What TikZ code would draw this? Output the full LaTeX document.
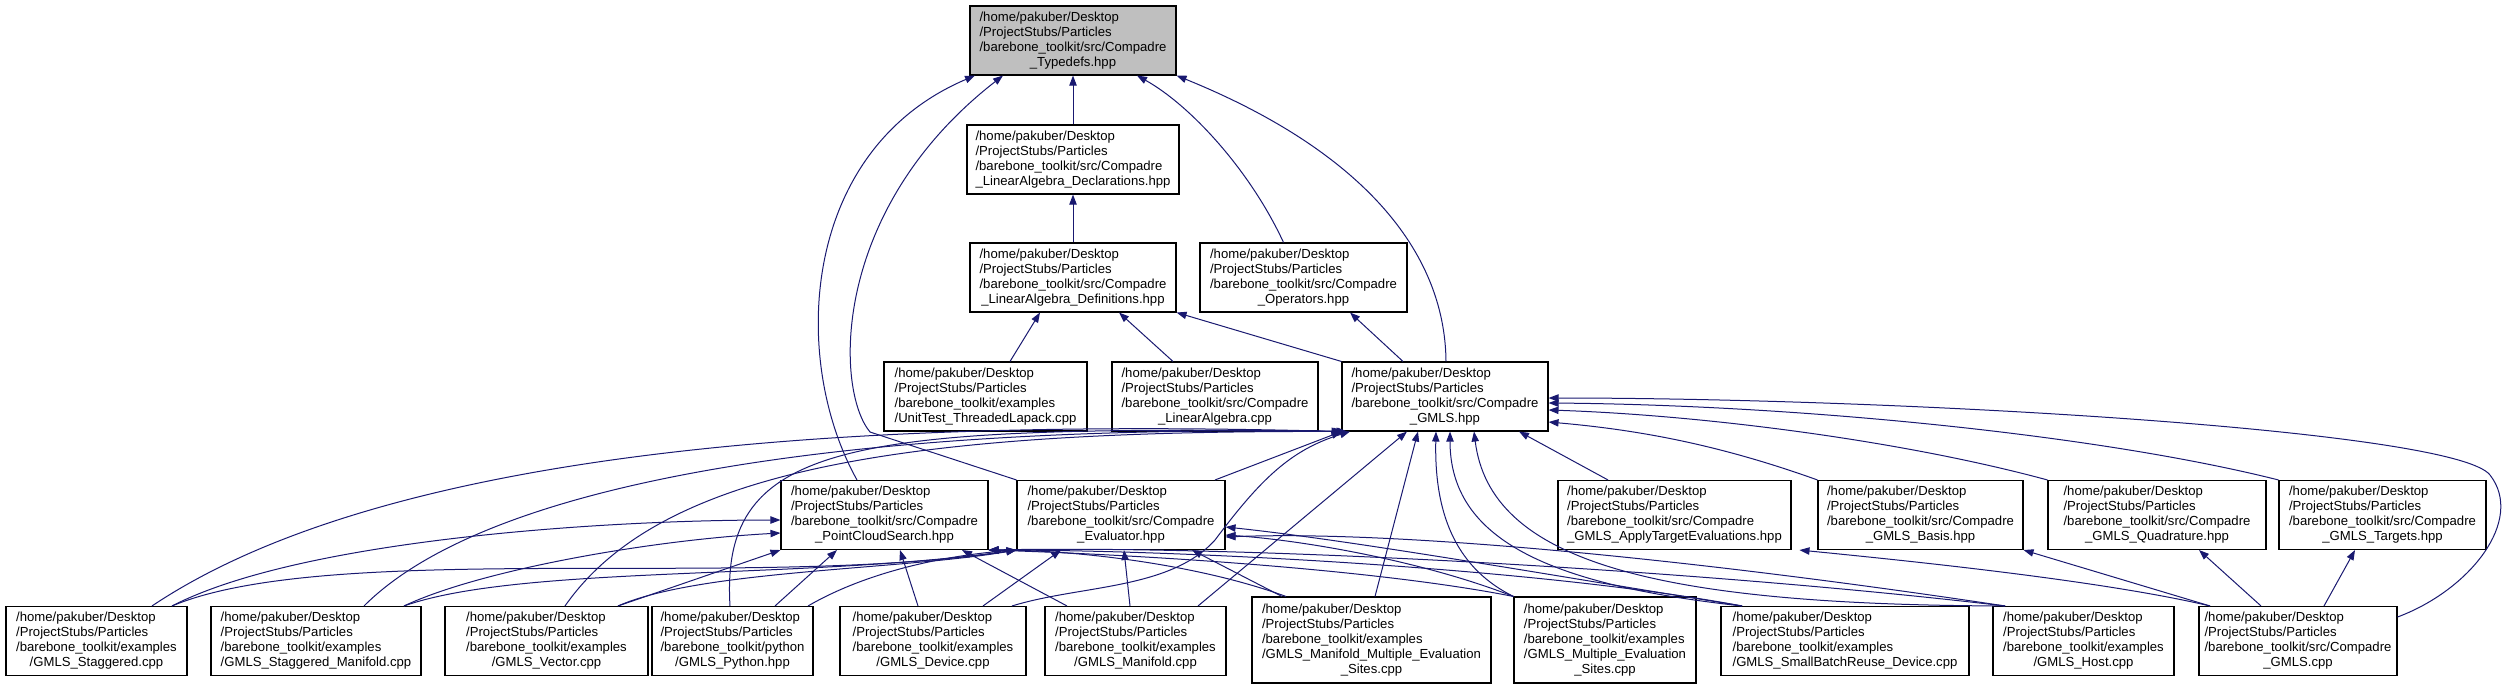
\documentclass[tikz,border=0pt]{standalone}
\usepackage{fontspec}
\setmainfont{Liberation Sans}
\usetikzlibrary{arrows.meta}
\definecolor{edgeblue}{RGB}{25,25,112}
\definecolor{rootgray}{RGB}{191,191,191}
\newdimen\pxu \pxu=0.75pt
\newcommand{\fname}[2]{\begin{tabular}{@{}l@{}}#1\\\multicolumn{1}{@{}c@{}}{#2}\end{tabular}}
\newcommand{\srcdir}{/home/pakuber/Desktop\\/ProjectStubs/Particles\\/barebone\_toolkit/src/Compadre}
\newcommand{\exdir}{/home/pakuber/Desktop\\/ProjectStubs/Particles\\/barebone\_toolkit/examples}
\tikzset{
    file/.style={draw=black, fill=white, line width=0.8pt, inner sep=0pt, minimum height=69\pxu, font=\fontsize{9.85}{11.25}\selectfont},
    root/.style={file, fill=rootgray},
    tall/.style={minimum height=86\pxu},
    boxw/.style={minimum width=#1\pxu},
    dep/.style={draw=edgeblue, line width=0.75pt, ->}
}

\begin{document}
\begin{tikzpicture}[x=0.75pt, y=-0.75pt, >={Triangle[length=7.5pt,width=5.5pt]}]
    \useasboundingbox (0,0) rectangle (2517,689);
    \node[root, boxw=206] (typedefs) at (1073,40.5) {\fname{\srcdir}{\_Typedefs.hpp}};
    \node[file, boxw=212] (ladecl) at (1073,159.5) {\fname{\srcdir}{\_LinearAlgebra\_Declarations.hpp}};
    \node[file, boxw=206] (ladef) at (1073,277.5) {\fname{\srcdir}{\_LinearAlgebra\_Definitions.hpp}};
    \node[file, boxw=207] (operators) at (1303.5,277.5) {\fname{\srcdir}{\_Operators.hpp}};
    \node[file, boxw=203] (unittest) at (985.5,396.5) {\fname{\exdir}{/UnitTest\_ThreadedLapack.cpp}};
    \node[file, boxw=206] (linalg) at (1215,396.5) {\fname{\srcdir}{\_LinearAlgebra.cpp}};
    \node[file, boxw=206] (gmlshpp) at (1445,396.5) {\fname{\srcdir}{\_GMLS.hpp}};
    \node[file, boxw=207] (pcs) at (884.5,515) {\fname{\srcdir}{\_PointCloudSearch.hpp}};
    \node[file, boxw=208] (evaluator) at (1121,515) {\fname{\srcdir}{\_Evaluator.hpp}};
    \node[file, boxw=233] (applytgt) at (1674.5,515) {\fname{\srcdir}{\_GMLS\_ApplyTargetEvaluations.hpp}};
    \node[file, boxw=205] (basis) at (1920.5,515) {\fname{\srcdir}{\_GMLS\_Basis.hpp}};
    \node[file, boxw=218] (quadrature) at (2157,515) {\fname{\srcdir}{\_GMLS\_Quadrature.hpp}};
    \node[file, boxw=207] (targets) at (2382.5,515) {\fname{\srcdir}{\_GMLS\_Targets.hpp}};
    \node[file, boxw=181] (staggered) at (96.5,641) {\fname{\exdir}{/GMLS\_Staggered.cpp}};
    \node[file, boxw=210] (stagmani) at (316,641) {\fname{\exdir}{/GMLS\_Staggered\_Manifold.cpp}};
    \node[file, boxw=203] (vector) at (546.5,641) {\fname{\exdir}{/GMLS\_Vector.cpp}};
    \node[file, boxw=161] (python) at (732.5,641) {\fname{/home/pakuber/Desktop\\/ProjectStubs/Particles\\/barebone\_toolkit/python}{/GMLS\_Python.hpp}};
    \node[file, boxw=186] (device) at (933,641) {\fname{\exdir}{/GMLS\_Device.cpp}};
    \node[file, boxw=181] (manifold) at (1135.5,641) {\fname{\exdir}{/GMLS\_Manifold.cpp}};
    \node[file, tall, boxw=239] (manimult) at (1371.5,640) {\fname{\exdir\\/GMLS\_Manifold\_Multiple\_Evaluation}{\_Sites.cpp}};
    \node[file, tall, boxw=182] (multeval) at (1605,640) {\fname{\exdir\\/GMLS\_Multiple\_Evaluation}{\_Sites.cpp}};
    \node[file, boxw=248] (smallbatch) at (1845,641) {\fname{\exdir}{/GMLS\_SmallBatchReuse\_Device.cpp}};
    \node[file, boxw=181] (host) at (2083.5,641) {\fname{\exdir}{/GMLS\_Host.cpp}};
    \node[file, boxw=198] (gmlscpp) at (2298,641) {\fname{\srcdir}{\_GMLS.cpp}};

    \draw[dep] (ladecl) -- (typedefs);
    \draw[dep] (ladef) -- (ladecl);
    \draw[dep] ([xshift=24.5\pxu]unittest.north) -- ([xshift=-33\pxu]ladef.south);
    \draw[dep] ([xshift=-42\pxu]linalg.north) -- ([xshift=46\pxu]ladef.south);
    \draw[dep] (gmlshpp.north west) -- (ladef.south east);
    \draw[dep] ([xshift=-42\pxu]gmlshpp.north) -- ([xshift=46.5\pxu]operators.south);
    \draw[dep] ([xshift=-20\pxu]operators.north) .. controls (1250,170) and (1190,105) .. ([xshift=64\pxu]typedefs.south);
    \draw[dep] ([xshift=1\pxu]gmlshpp.north) .. controls (1445,250) and (1360,150) .. (typedefs.south east);
    \draw[dep] ([xshift=-27.5\pxu]pcs.north) .. controls (790,360) and (800,150) .. ([xshift=-98\pxu]typedefs.south);
    \draw[dep] (evaluator.north west) -- (870,432) .. controls (835,390) and (830,210) .. ([xshift=-70\pxu]typedefs.south);
    \draw[dep] ([xshift=94\pxu]evaluator.north) -- (gmlshpp.south west);
    \draw[dep] ([xshift=-66.5\pxu]applytgt.north) -- ([xshift=74\pxu]gmlshpp.south);
    \draw[dep] (basis.north west) .. controls (1720,445) and (1640,430) .. ([yshift=-25.5\pxu]gmlshpp.east);
    \draw[dep] (quadrature.north west) .. controls (1900,440) and (1700,415) .. ([yshift=-13.5\pxu]gmlshpp.east);
    \draw[dep] (targets.north west) .. controls (2100,435) and (1800,405) .. ([yshift=-6.5\pxu]gmlshpp.east);
    \draw[dep] ([yshift=24\pxu]gmlscpp.east) .. controls (2470,590) and (2525,520) .. (2490,475) .. controls (2455,430) and (1900,398) .. ([yshift=-1.5\pxu]gmlshpp.east);
    \draw[dep] ([xshift=-88\pxu]gmlscpp.north) .. controls (2100,580) and (1900,560) .. ([xshift=125\pxu]applytgt.south);
    \draw[dep] ([xshift=-88\pxu]gmlscpp.north) -- (basis.south east);
    \draw[dep] ([xshift=-37\pxu]gmlscpp.north) -- ([xshift=42\pxu]quadrature.south);
    \draw[dep] ([xshift=26\pxu]gmlscpp.north) -- ([xshift=-27.5\pxu]targets.south);

    \draw[dep] ([xshift=55.5\pxu]staggered.north) .. controls (400,440) and (900,420) .. (gmlshpp.south west);
    \draw[dep] ([xshift=48\pxu]stagmani.north) .. controls (500,470) and (900,425) .. ([xshift=2\pxu]gmlshpp.south west);
    \draw[dep] ([xshift=18.5\pxu]vector.north) .. controls (660,470) and (900,430) .. ([xshift=5\pxu]gmlshpp.south west);
    \draw[dep] ([xshift=-2.5\pxu]python.north) .. controls (720,440) and (850,425) .. ([xshift=6\pxu]gmlshpp.south west);
    \draw[dep] ([xshift=79\pxu]device.north) .. controls (1080,585) and (1170,590) .. (1215,540) .. controls (1260,480) and (1290,450) .. ([xshift=-95\pxu]gmlshpp.south);
    \draw[dep] ([xshift=62.5\pxu]manifold.north) -- ([xshift=-38\pxu]gmlshpp.south);
    \draw[dep] ([xshift=3.5\pxu]manimult.north) -- ([xshift=-27\pxu]gmlshpp.south);
    \draw[dep] (multeval.north west) .. controls (1460,570) and (1434,520) .. ([xshift=-9\pxu]gmlshpp.south);
    \draw[dep] ([xshift=-103\pxu]smallbatch.north) .. controls (1550,585) and (1450,540) .. ([xshift=5\pxu]gmlshpp.south);
    \draw[dep] ([xshift=-78.5\pxu]host.north) .. controls (1650,605) and (1490,560) .. ([xshift=29\pxu]gmlshpp.south);

    \draw[dep] ([xshift=75.5\pxu]staggered.north) .. controls (300,540) and (600,520) .. ([yshift=-5\pxu]pcs.west);
    \draw[dep] ([xshift=88\pxu]stagmani.north) .. controls (480,570) and (650,540) .. ([yshift=-18\pxu]pcs.west);
    \draw[dep] ([xshift=71.5\pxu]vector.north) -- (pcs.south west);
    \draw[dep] ([xshift=42.5\pxu]python.north) -- ([xshift=-47.5\pxu]pcs.south);
    \draw[dep] ([xshift=-15\pxu]device.north) -- ([xshift=15.5\pxu]pcs.south);
    \draw[dep] ([xshift=-68.5\pxu]manifold.north) -- ([xshift=77.5\pxu]pcs.south);
    \draw[dep] ([xshift=-85.5\pxu]manimult.north) .. controls (1200,565) and (1080,550) .. (pcs.south east);
    \draw[dep] (multeval.north west) .. controls (1380,570) and (1150,555) .. (pcs.south east);
    \draw[dep] ([xshift=-103\pxu]smallbatch.north) .. controls (1550,570) and (1200,550) .. (pcs.south east);
    \draw[dep] ([xshift=-78.5\pxu]host.north) .. controls (1700,570) and (1250,545) .. (pcs.south east);

    \draw[dep] ([xshift=75.5\pxu]staggered.north) .. controls (330,540) and (750,590) .. (evaluator.south west);
    \draw[dep] ([xshift=88\pxu]stagmani.north) .. controls (520,565) and (800,580) .. (evaluator.south west);
    \draw[dep] ([xshift=71.5\pxu]vector.north) .. controls (700,570) and (900,570) .. (evaluator.south west);
    \draw[dep] ([xshift=75.5\pxu]python.north) .. controls (870,570) and (950,555) .. (evaluator.south west);
    \draw[dep] ([xshift=50\pxu]device.north) -- ([xshift=-60\pxu]evaluator.south);
    \draw[dep] ([xshift=-5.5\pxu]manifold.north) -- ([xshift=3\pxu]evaluator.south);
    \draw[dep] ([xshift=-89.5\pxu]manimult.north) -- ([xshift=71\pxu]evaluator.south);
    \draw[dep] (multeval.north west) .. controls (1420,560) and (1300,540) .. ([yshift=-20\pxu]evaluator.east);
    \draw[dep] ([xshift=-103\pxu]smallbatch.north) .. controls (1550,575) and (1350,540) .. ([yshift=-12\pxu]evaluator.east);
    \draw[dep] ([xshift=-78.5\pxu]host.north) .. controls (1700,560) and (1400,530) .. ([yshift=-22\pxu]evaluator.east);
\end{tikzpicture}
\end{document}
